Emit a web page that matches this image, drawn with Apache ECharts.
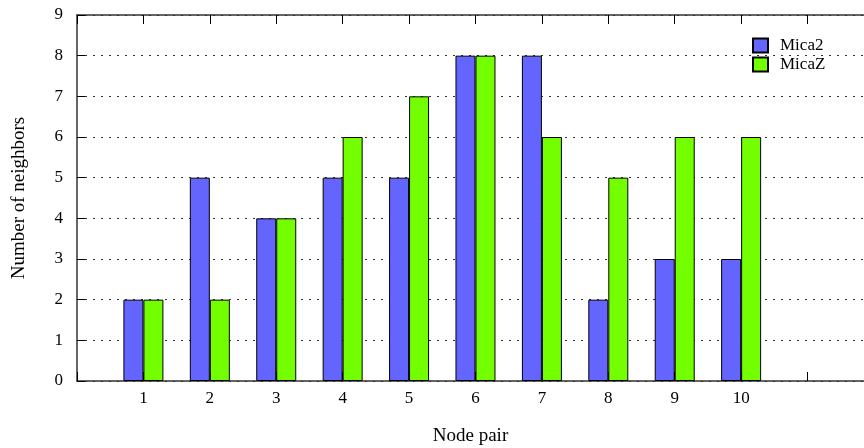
<!DOCTYPE html>
<html>
<head>
<meta charset="utf-8">
<script src="https://cdn.jsdelivr.net/npm/echarts@6/dist/echarts.min.js"></script>
<style>
  html, body { margin: 0; padding: 0; background: #fff; }
  #chart { width: 864px; height: 448px; }
</style>
</head>
<body>
<div id="chart"></div>
<script>
// node pairs on the x axis
var nodePairs = [1, 2, 3, 4, 5, 6, 7, 8, 9, 10];
// neighbour counts per mote type
var mica2 = [2, 5, 4, 5, 5, 8, 8, 2, 3, 3];
var micaZ = [2, 2, 4, 6, 7, 8, 6, 5, 6, 6];
var yTicks = [0, 1, 2, 3, 4, 5, 6, 7, 8, 9];

var font = "Liberation Serif";

function pairs(vals) {
  var out = [];
  for (var i = 0; i < nodePairs.length; i++) out.push([nodePairs[i], vals[i]]);
  return out;
}

var chart = echarts.init(document.getElementById("chart"));
var option = {
  animation: false,
  backgroundColor: "#fff",
  textStyle: { fontFamily: font },
  grid: { left: 77, right: 0, top: 15, bottom: 67, containLabel: false, outerBoundsMode: "none" },
  legend: {
    orient: "vertical",
    left: 752,
    top: 37,
    padding: 0,
    icon: "rect",
    itemWidth: 15,
    itemHeight: 14,
    itemGap: 2,
    textStyle: { fontFamily: font, fontSize: 17, lineHeight: 17, color: "#000", padding: [0, 0, 0, 7] },
    data: ["Mica2", "MicaZ"]
  },
  xAxis: [
    {
      type: "value",
      min: 0,
      max: 11.85,
      interval: 1,
      name: "Node pair",
      nameLocation: "middle",
      nameGap: 46,
      nameTextStyle: { fontFamily: font, fontSize: 19, color: "#000" },
      axisLine: { lineStyle: { color: "#333", width: 1.5 } },
      axisTick: { inside: true, length: 9, lineStyle: { color: "#000" } },
      axisLabel: {
        fontFamily: font, fontSize: 17, color: "#000", margin: 9,
        showMaxLabel: false,
        formatter: function (v) { return nodePairs.indexOf(v) >= 0 ? String(v) : ""; }
      },
      splitLine: { show: false }
    },
    {
      type: "value",
      position: "top",
      min: 0,
      max: 11.85,
      interval: 1,
      axisLine: { show: true, lineStyle: { color: "#333", width: 1.5 } },
      axisTick: { show: true, inside: true, length: 9, lineStyle: { color: "#000" } },
      axisLabel: { show: false },
      splitLine: { show: false }
    }
  ],
  yAxis: {
    type: "value",
    min: yTicks[0],
    max: yTicks[yTicks.length - 1],
    interval: 1,
    name: "Number of neighbors",
    nameLocation: "middle",
    nameGap: 48,
    nameTextStyle: { fontFamily: font, fontSize: 19, color: "#000" },
    axisLine: { show: true, lineStyle: { color: "#333", width: 1.5 } },
    axisTick: { show: true, inside: true, length: 8, lineStyle: { color: "#000" } },
    axisLabel: { fontFamily: font, fontSize: 17, color: "#000", margin: 14 },
    splitLine: { show: true, lineStyle: { type: [2, 6], color: "#333", width: 1 } }
  },
  series: [
    {
      name: "Mica2",
      type: "bar",
      barWidth: 20,
      barGap: "0%",
      data: pairs(mica2),
      itemStyle: { color: "#6464ff", borderColor: "#000", borderWidth: 1 }
    },
    {
      name: "MicaZ",
      type: "bar",
      barWidth: 20,
      barGap: "0%",
      data: pairs(micaZ),
      itemStyle: { color: "#74ff00", borderColor: "#000", borderWidth: 1 }
    }
  ]
};
chart.setOption(option);
</script>
</body>
</html>
